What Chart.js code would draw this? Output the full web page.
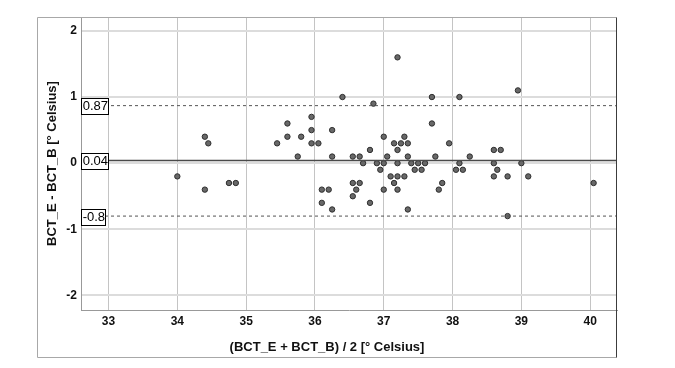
<!DOCTYPE html>
<html><head><meta charset="utf-8">
<script src="https://cdn.jsdelivr.net/npm/chart.js@4/dist/chart.umd.min.js"></script>
<style>html,body{margin:0;padding:0;background:#fff;} canvas{display:block;}</style>
</head><body>
<canvas id="c" width="675" height="368" style="width:675px;height:368px"></canvas>
<script>
// Bland-Altman data: mean of the two measurements (x) and their difference (y)
const meanTemp = [34.4,34.45,34.0,34.4,34.75,34.85,37.2,36.4,36.85,37.7,37.7,35.6,35.95,35.95,36.25,35.45,35.6,35.8,35.95,36.05,
  35.75,36.25,36.55,36.65,36.8,37.0,37.05,37.15,37.25,37.3,37.35,37.2,37.35,37.75,36.7,36.9,37.0,37.2,37.4,37.5,
  37.6,36.95,37.45,37.55,37.1,37.2,37.3,36.55,36.65,37.15,37.85,36.1,36.2,36.6,37.0,37.2,37.8,36.55,36.1,36.8,
  36.25,37.35,38.25,38.6,38.7,38.1,38.6,39.0,38.05,38.15,38.65,38.6,38.8,39.1,40.05,38.8,38.1,38.95,37.95];
const tempDiff = [0.4,0.3,-0.2,-0.4,-0.3,-0.3,1.6,1.0,0.9,1.0,0.6,0.6,0.7,0.5,0.5,0.3,0.4,0.4,0.3,0.3,
  0.1,0.1,0.1,0.1,0.2,0.4,0.1,0.3,0.3,0.4,0.3,0.2,0.1,0.1,0.0,0.0,0.0,0.0,0.0,0.0,
  0.0,-0.1,-0.1,-0.1,-0.2,-0.2,-0.2,-0.3,-0.3,-0.3,-0.3,-0.4,-0.4,-0.4,-0.4,-0.4,-0.4,-0.5,-0.6,-0.6,
  -0.7,-0.7,0.1,0.2,0.2,0.0,0.0,0.0,-0.1,-0.1,-0.1,-0.2,-0.2,-0.2,-0.3,-0.8,1.0,1.1,0.3];
const meanBias = 0.04;
const upperLimit = 0.87;
const lowerLimit = -0.8;
const refLineLabels = ['0.87', '0.04', '-0.8'];
const xTitle = '(BCT_E + BCT_B) / 2 [° Celsius]';
const yTitle = 'BCT_E - BCT_B [° Celsius]';

const X_MIN = 32.6, X_MAX = 40.39, Y_MIN = -2.22, Y_MAX = 2.21;
const FONT = "'Liberation Sans', Arial, sans-serif";

const points = meanTemp.map((m, i) => ({x: m, y: tempDiff[i]}));
const hline = v => [{x: X_MIN, y: v}, {x: X_MAX, y: v}];

const labelPlugin = {
  id: 'refLabels',
  afterDatasetsDraw(chart) {
    const ctx = chart.ctx, ys = chart.scales.y, area = chart.chartArea;
    const vals = [upperLimit, meanBias, lowerLimit];
    ctx.save();
    ctx.font = "13px " + FONT;
    ctx.textBaseline = 'middle';
    ctx.textAlign = 'left';
    vals.forEach((v, i) => {
      const t = refLineLabels[i];
      const w = ctx.measureText(t).width;
      const yc = ys.getPixelForValue(v) + 0.5;
      const x0 = Math.round(area.left) + 0.5;
      const y0 = Math.round(yc - 8) + 0.5;
      ctx.fillStyle = '#fff';
      ctx.fillRect(x0, y0, Math.round(w + 2), 16);
      ctx.strokeStyle = '#000';
      ctx.lineWidth = 1;
      ctx.strokeRect(x0, y0, Math.round(w + 2), 16);
      ctx.fillStyle = '#000';
      ctx.fillText(t, x0 + 1.2, yc + 0.5);
    });
    ctx.restore();
  }
};

const framePlugin = {
  id: 'frame',
  afterDraw(chart) {
    const ctx = chart.ctx;
    const L = 37.5, T = 17.5, R = 616.5, B = 357.5;
    ctx.save();
    ctx.lineWidth = 1;
    ctx.strokeStyle = '#a8a8a8';
    ctx.beginPath();
    ctx.moveTo(R, T); ctx.lineTo(L, T); ctx.lineTo(L, B); ctx.lineTo(R, B);
    ctx.stroke();
    ctx.strokeStyle = '#3c3c3c';
    ctx.beginPath();
    ctx.moveTo(R, T); ctx.lineTo(R, B);
    ctx.stroke();
    ctx.restore();
  }
};

new Chart(document.getElementById('c'), {
  type: 'scatter',
  data: {
    datasets: [
      {type: 'line', data: hline(upperLimit), borderColor: '#555', borderWidth: 1, borderDash: [3, 3], pointRadius: 0},
      {type: 'line', data: hline(lowerLimit), borderColor: '#555', borderWidth: 1, borderDash: [3, 3], pointRadius: 0},
      {type: 'line', data: hline(meanBias), borderColor: '#4a4a4a', borderWidth: 1.3, pointRadius: 0},
      {data: points, pointRadius: 2.7, pointBorderWidth: 1, pointBackgroundColor: '#686868', pointBorderColor: '#2e2e2e', pointHoverRadius: 2.7}
    ]
  },
  options: {
    responsive: false,
    animation: false,
    events: [],
    layout: {padding: {left: 37, top: 17, right: 58, bottom: 11}},
    plugins: {
      legend: {display: false},
      tooltip: {enabled: false},
      title: {
        display: true, position: 'bottom', text: xTitle, color: '#111',
        font: {family: FONT, size: 13, weight: 'bold'},
        padding: {top: 9.4, bottom: 2}
      }
    },
    scales: {
      x: {
        type: 'linear', min: X_MIN, max: X_MAX,
        afterFit(s) { s.height = 20; },
        ticks: {stepSize: 1, includeBounds: false, padding: 4, color: '#111', font: {family: FONT, size: 12, weight: 'bold'}},
        grid: {color: '#c4c4c4', lineWidth: 1, drawTicks: false},
        border: {color: '#999', width: 1}
      },
      y: {
        type: 'linear', min: Y_MIN, max: Y_MAX,
        afterFit(s) { s.width = 44; },
        ticks: {stepSize: 1, includeBounds: false, padding: 4, color: '#111', font: {family: FONT, size: 12, weight: 'bold'}},
        grid: {color: '#dcdcdc', lineWidth: 2, drawTicks: false},
        border: {color: '#999', width: 1},
        title: {display: true, text: yTitle, color: '#111', font: {family: FONT, size: 13, weight: 'bold'}, padding: {top: 8, bottom: 0}}
      }
    }
  },
  plugins: [labelPlugin, framePlugin]
});
</script>
</body></html>
